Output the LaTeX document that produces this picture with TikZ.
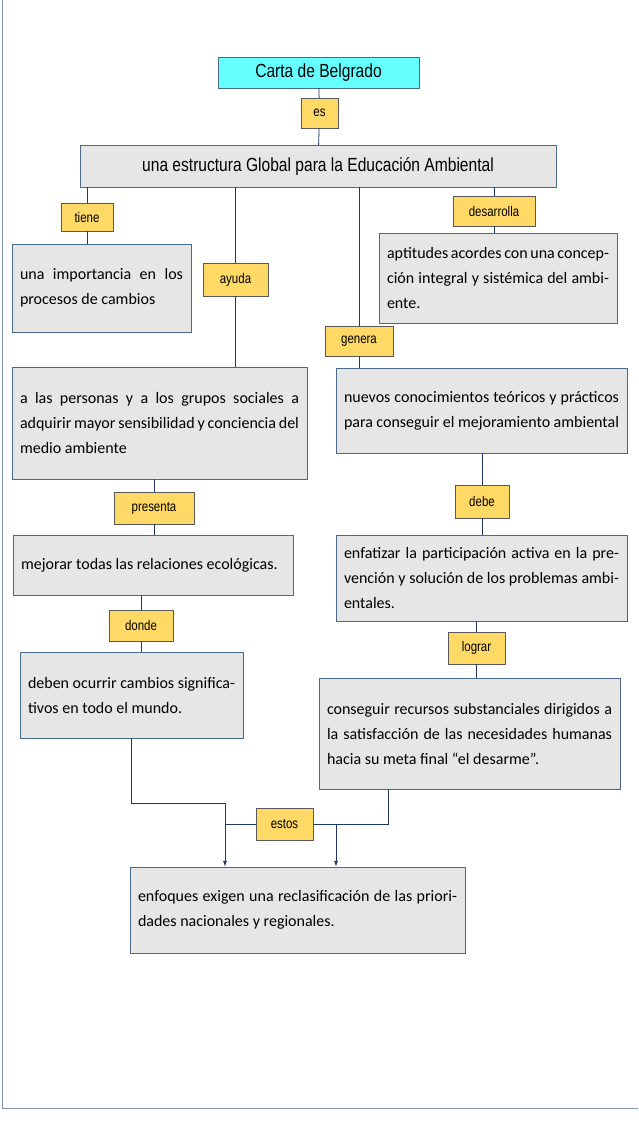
\documentclass[tikz,border=0pt]{standalone}
\usepackage{fontspec}
\setmainfont{Carlito}
\newfontfamily\narrowfont[FakeStretch=0.82]{Liberation Sans}
\usetikzlibrary{arrows.meta}
\definecolor{boxgray}{HTML}{E6E6E6}
\definecolor{boxline}{HTML}{4A6A8A}
\definecolor{labelyel}{HTML}{FFD966}
\definecolor{titlecyan}{HTML}{66FFFF}
\definecolor{lineblue}{HTML}{1F3864}
\tikzset{
  concept/.style={draw=boxline, fill=boxgray, inner sep=0pt, align=justify, font=\fontsize{16}{25}\selectfont},
  linkword/.style={draw=gray!70!black, fill=labelyel, inner sep=0pt, font=\narrowfont\fontsize{14}{16}\selectfont},
  conn/.style={draw=lineblue, line width=0.8pt},
  arr/.style={conn, -{Latex[length=6pt,width=4pt]}}
}
\begin{document}
\begin{tikzpicture}[x=1pt,y=-1pt]
\useasboundingbox (0,0) rectangle (638,1135);
\draw[boxline!70, line width=1pt] (2,0) -- (2,1108) -- (638,1108);

% titulo
\node[draw=boxline, fill=titlecyan, minimum width=201pt, minimum height=31pt, font=\narrowfont\fontsize{19}{21}\selectfont] (carta) at (318.5,72.5) {Carta de Belgrado};
\node[linkword, minimum width=37pt, minimum height=30pt] (es) at (319.5,113) {es};
\node[draw=boxline, fill=boxgray, minimum width=476pt, minimum height=42pt, font=\narrowfont\fontsize{19}{21}\selectfont] (estr) at (318,166) {una estructura Global para la Educación Ambiental};

% enlaces
\node[linkword, minimum width=52pt, minimum height=28pt] (tiene) at (87,217) {tiene};
\node[linkword, minimum width=82pt, minimum height=30pt] (desa) at (494,211) {desarrolla};
\node[linkword, minimum width=65pt, minimum height=33pt] (ayuda) at (235.5,279.5) {ayuda};
\node[linkword, minimum width=68pt, minimum height=30pt] (genera) at (359,341) {genera};
\node[linkword, minimum width=80pt, minimum height=32pt] (presenta) at (154,508) {presenta};
\node[linkword, minimum width=54pt, minimum height=33pt] (debe) at (482,501.5) {debe};
\node[linkword, minimum width=64pt, minimum height=31pt] (donde) at (141,625.5) {donde};
\node[linkword, minimum width=57pt, minimum height=32pt] (lograr) at (476.5,648) {lograr};
\node[linkword, minimum width=57pt, minimum height=32pt] (estos) at (284.5,824) {estos};

% conceptos
\node[concept, minimum width=179pt, minimum height=88pt, text width=163pt] (imp) at (101.5,288) {una importancia en los procesos de cambios};
\node[concept, minimum width=238pt, minimum height=90pt, text width=222pt] (apt) at (498,278) {aptitudes acordes con una concepción integral y sistémica del ambiente.};
\node[concept, minimum width=295pt, minimum height=112pt, text width=279pt] (pers) at (159.5,423) {a las personas y a los grupos sociales a adquirir mayor sensibilidad y conciencia del medio ambiente};
\node[concept, minimum width=291pt, minimum height=85pt, text width=275pt] (nuevos) at (481.5,410.5) {nuevos conocimientos teóricos y prácticos para conseguir el mejoramiento ambiental};
\node[concept, minimum width=280pt, minimum height=60pt, text width=264pt] (mejorar) at (153,565) {mejorar todas las relaciones ecológicas.};
\node[concept, minimum width=291pt, minimum height=86pt, text width=275pt] (enfat) at (481.5,578) {enfatizar la participación activa en la prevención y solución de los problemas ambientales.};
\node[concept, minimum width=223pt, minimum height=86pt, text width=207pt] (deben) at (131.5,695) {deben ocurrir cambios significativos en todo el mundo.};
\node[concept, minimum width=301pt, minimum height=111pt, text width=285pt] (cons) at (469.5,733.5) {conseguir recursos substanciales dirigidos a la satisfacción de las necesidades humanas hacia su meta final “el desarme”.};
\node[concept, minimum width=335pt, minimum height=86pt, text width=319pt] (enfoq) at (297.5,910) {enfoques exigen una reclasificación de las prioridades nacionales y regionales.};

% conectores
\draw[conn] (carta) -- (es) -- (estr);
\draw[conn] (estr.south -| tiene) -- (tiene) -- (imp.north -| tiene);
\draw[conn] (estr.south -| desa) -- (desa) -- (apt.north -| desa);
\draw[conn] (estr.south -| ayuda) -- (ayuda) -- (pers.north -| ayuda);
\draw[conn] (estr.south -| genera) -- (genera) -- (nuevos.north -| genera);
\draw[conn] (nuevos.south -| debe) -- (debe) -- (enfat.north -| debe);
\draw[conn] (pers.south -| presenta) -- (presenta) -- (mejorar.north -| presenta);
\draw[conn] (mejorar.south -| donde) -- (donde) -- (deben.north -| donde);
\draw[conn] (enfat.south -| lograr) -- (lograr) -- (cons.north -| lograr);
\coordinate (izq) at (225,803);
\coordinate (der) at (336,824);
\draw[conn] (deben.south) -- (deben.south |- izq) -- (izq);
\draw[arr] (izq) -- (izq |- enfoq.north);
\draw[conn] (izq |- estos) -- (estos.west);
\draw[conn] (cons.south -| 388,0) -- (388,824) -- (estos.east);
\draw[arr] (der) -- (der |- enfoq.north);
\end{tikzpicture}
\end{document}
